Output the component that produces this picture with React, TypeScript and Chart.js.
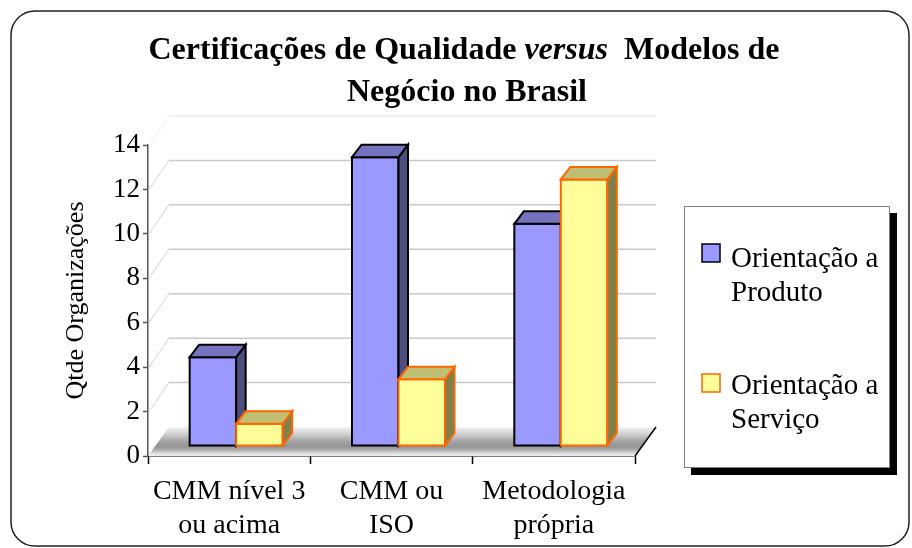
import React, { useEffect, useRef } from 'react';
import { Chart, registerables } from 'chart.js';

Chart.register(...registerables);

// ---------- data ----------
const categories: string[][] = [
  ['CMM nível 3', 'ou acima'],
  ['CMM ou', 'ISO'],
  ['Metodologia', 'própria'],
];
const seriesNames = ['Orientação a Produto', 'Orientação a Serviço'];
const legendLines = [
  ['Orientação a', 'Produto'],
  ['Orientação a', 'Serviço'],
];
const produto = [4, 13, 10];
const servico = [1, 3, 12];
const yTickValues = [0, 2, 4, 6, 8, 10, 12, 14];
const titleLine1 = [
  { text: 'Certificações de Qualidade ', italic: false },
  { text: 'versus', italic: true },
  { text: '  Modelos de', italic: false },
];
const titleLine2 = 'Negócio no Brasil';
const yAxisTitle = 'Qtde Organizações';

// ---------- styles ----------
const FONT = '"Liberation Serif", "Times New Roman", serif';
const faces = [
  { front: '#9999FF', top: '#7373BF', side: '#4D4D80', border: '#000000' },
  { front: '#FFFF99', top: '#BFBF73', side: '#80804D', border: '#FF6600' },
];
const DEPTH_X = 9.5;
const DEPTH_Y = 12.5;
const BAR_SHIFT_X = 7;
const BAR_SHIFT_Y = -10;
const WALL_DX = 21;
const WALL_DY = -29;

function roundRect(ctx: CanvasRenderingContext2D, x: number, y: number, w: number, h: number, r: number) {
  ctx.beginPath();
  ctx.moveTo(x + r, y);
  ctx.lineTo(x + w - r, y);
  ctx.arcTo(x + w, y, x + w, y + r, r);
  ctx.lineTo(x + w, y + h - r);
  ctx.arcTo(x + w, y + h, x + w - r, y + h, r);
  ctx.lineTo(x + r, y + h);
  ctx.arcTo(x, y + h, x, y + h - r, r);
  ctx.lineTo(x, y + r);
  ctx.arcTo(x, y, x + r, y, r);
  ctx.closePath();
}

function poly(ctx: CanvasRenderingContext2D, pts: number[][], fill: string, stroke: string, lw: number) {
  ctx.beginPath();
  ctx.moveTo(pts[0][0], pts[0][1]);
  for (let i = 1; i < pts.length; i++) ctx.lineTo(pts[i][0], pts[i][1]);
  ctx.closePath();
  ctx.fillStyle = fill;
  ctx.fill();
  ctx.lineWidth = lw;
  ctx.strokeStyle = stroke;
  ctx.lineJoin = 'miter';
  ctx.stroke();
}

const excel3d = {
  id: 'excel3d',
  beforeDraw(chart: any) {
    const ctx: CanvasRenderingContext2D = chart.ctx;
    ctx.save();
    ctx.fillStyle = '#ffffff';
    ctx.fillRect(0, 0, chart.width, chart.height);
    // outer rounded frame
    roundRect(ctx, 11, 11, 898, 535, 24);
    ctx.lineWidth = 1.5;
    ctx.strokeStyle = '#222222';
    ctx.stroke();
    // title
    const cx = 464;
    ctx.fillStyle = '#000000';
    ctx.textBaseline = 'alphabetic';
    ctx.textAlign = 'left';
    const fontOf = (it: boolean) => `${it ? 'italic ' : ''}bold 32px ${FONT}`;
    let total = 0;
    for (const p of titleLine1) {
      ctx.font = fontOf(p.italic);
      total += ctx.measureText(p.text).width;
    }
    let x = cx - total / 2;
    for (const p of titleLine1) {
      ctx.font = fontOf(p.italic);
      ctx.fillText(p.text, x, 59);
      x += ctx.measureText(p.text).width;
    }
    ctx.font = fontOf(false);
    ctx.textAlign = 'center';
    ctx.fillText(titleLine2, 467, 101);
    ctx.restore();
  },
  beforeDatasetsDraw(chart: any) {
    const ctx: CanvasRenderingContext2D = chart.ctx;
    const ca = chart.chartArea;
    const y = chart.scales.y;
    ctx.save();
    // back wall gridlines + side diagonals
    for (const v of yTickValues) {
      const py = y.getPixelForValue(v);
      if (v === 0) continue;
      const topLine = v === yTickValues[yTickValues.length - 1];
      ctx.lineWidth = 1.5;
      ctx.strokeStyle = topLine ? '#efefef' : '#c9c9c9';
      ctx.beginPath();
      ctx.moveTo(ca.left + WALL_DX, py + WALL_DY);
      ctx.lineTo(ca.right + WALL_DX, py + WALL_DY);
      ctx.stroke();
      ctx.strokeStyle = topLine ? '#efefef' : '#d4d4d4';
      ctx.lineWidth = 1;
      ctx.beginPath();
      ctx.moveTo(ca.left + 1, py);
      ctx.lineTo(ca.left + WALL_DX, py + WALL_DY);
      ctx.stroke();
    }
    // floor
    const y0 = y.getPixelForValue(0);
    const g = ctx.createLinearGradient(0, y0 + WALL_DY, 0, y0);
    g.addColorStop(0, '#f4f4f4');
    g.addColorStop(0.12, '#e2e2e2');
    g.addColorStop(0.3, '#c6c6c6');
    g.addColorStop(0.5, '#a2a2a2');
    g.addColorStop(0.68, '#949494');
    g.addColorStop(0.8, '#b0b0b0');
    g.addColorStop(0.9, '#dadada');
    g.addColorStop(1, '#f2f2f2');
    ctx.beginPath();
    ctx.moveTo(ca.left, y0);
    ctx.lineTo(ca.right, y0);
    ctx.lineTo(ca.right + WALL_DX, y0 + WALL_DY);
    ctx.lineTo(ca.left + WALL_DX, y0 + WALL_DY);
    ctx.closePath();
    ctx.fillStyle = g;
    ctx.fill();
    ctx.strokeStyle = '#000000';
    ctx.lineWidth = 1.5;
    ctx.beginPath();
    ctx.moveTo(ca.right, y0);
    ctx.lineTo(ca.right + WALL_DX, y0 + WALL_DY);
    ctx.stroke();
    ctx.restore();
    // bars are drawn at the middle depth
    ctx.save();
    ctx.translate(BAR_SHIFT_X, BAR_SHIFT_Y);
  },
  afterDatasetsDraw(chart: any) {
    const ctx: CanvasRenderingContext2D = chart.ctx;
    const metas = chart.data.datasets.map((_: any, i: number) => chart.getDatasetMeta(i));
    const n = chart.data.labels.length;
    for (let j = 0; j < n; j++) {
      metas.forEach((meta: any, i: number) => {
        const el = meta.data[j];
        if (!el) return;
        const { x, y, base, width } = el.getProps(['x', 'y', 'base', 'width'], true);
        const l = x - width / 2;
        const r = x + width / 2;
        const f = faces[i];
        poly(ctx, [[l, y], [r, y], [r, base], [l, base]], f.front, f.border, 2);
        poly(ctx, [[r, y], [r + DEPTH_X, y - DEPTH_Y], [r + DEPTH_X, base - DEPTH_Y], [r, base]], f.side, f.border, 2);
        poly(ctx, [[l, y], [l + DEPTH_X, y - DEPTH_Y], [r + DEPTH_X, y - DEPTH_Y], [r, y]], f.top, f.border, 2);
      });
    }
    ctx.restore();
  },
  afterDraw(chart: any) {
    const ctx: CanvasRenderingContext2D = chart.ctx;
    ctx.save();
    // legend box with shadow
    const bx = 684, by = 206, bw = 206, bh = 262;
    ctx.fillStyle = '#000000';
    ctx.fillRect(bx + 7, by + 7, bw, bh);
    ctx.fillStyle = '#ffffff';
    ctx.fillRect(bx, by, bw, bh);
    ctx.strokeStyle = '#808080';
    ctx.lineWidth = 1;
    ctx.strokeRect(bx + 0.5, by + 0.5, bw - 1, bh - 1);
    const itemTops = [244, 374];
    const baselines = [[267, 301], [394, 428]];
    chart.data.datasets.forEach((ds: any, i: number) => {
      ctx.fillStyle = faces[i].front;
      ctx.fillRect(702, itemTops[i], 18, 18);
      ctx.strokeStyle = faces[i].border;
      ctx.lineWidth = 1.5;
      ctx.strokeRect(702, itemTops[i], 18, 18);
      ctx.fillStyle = '#000000';
      ctx.font = `29px ${FONT}`;
      ctx.textAlign = 'left';
      ctx.textBaseline = 'alphabetic';
      legendLines[i].forEach((t, k) => ctx.fillText(t, 731, baselines[i][k]));
    });
    ctx.restore();
  },
};

export default function App() {
  const ref = useRef<HTMLCanvasElement | null>(null);
  useEffect(() => {
    if (!ref.current) return;
    const chart = new Chart(ref.current, {
      type: 'bar',
      data: {
        labels: categories as any,
        datasets: [
          {
            label: seriesNames[0],
            data: produto,
            backgroundColor: faces[0].front,
            borderColor: faces[0].border,
            borderWidth: 2,
            clip: false as any,
          },
          {
            label: seriesNames[1],
            data: servico,
            backgroundColor: faces[1].front,
            borderColor: faces[1].border,
            borderWidth: 2,
            clip: false as any,
          },
        ],
      },
      options: {
        animation: false,
        responsive: false,
        devicePixelRatio: 1,
        layout: { padding: { left: 0, top: 145, right: 277, bottom: 0 } },
        datasets: { bar: { categoryPercentage: 0.573, barPercentage: 1 } },
        plugins: {
          legend: { display: false },
          title: { display: false },
          tooltip: { enabled: false },
        },
        scales: {
          x: {
            z: 1,
            offset: true,
            grid: {
              offset: true,
              drawOnChartArea: false,
              drawTicks: true,
              tickLength: 8,
              tickColor: '#000000',
              tickWidth: 1.5,
            },
            border: { display: true, color: '#000000', width: 1.5 },
            ticks: {
              color: '#000000',
              font: { family: FONT, size: 28 },
              padding: 11,
              maxRotation: 0,
              autoSkip: false,
            },
            afterFit: (s: any) => {
              s.height = 92;
            },
          },
          y: {
            z: 1,
            min: 0,
            max: 14,
            grid: {
              drawOnChartArea: false,
              drawTicks: true,
              tickLength: 5,
              tickColor: '#555555',
              tickWidth: 1.5,
            },
            border: { display: true, color: '#555555', width: 1.5 },
            ticks: {
              stepSize: 2,
              color: '#000000',
              font: { family: FONT, size: 27 },
              padding: 3,
            },
            title: {
              display: true,
              text: yAxisTitle,
              color: '#000000',
              font: { family: FONT, size: 26 },
              padding: { top: 61, bottom: 0 },
            },
            afterFit: (s: any) => {
              s.width = 148;
            },
          },
        },
      },
      plugins: [excel3d],
    } as any);
    return () => chart.destroy();
  }, []);
  return (
    <div style={{ position: 'absolute', left: 0, top: 0, width: 912, height: 548 }}>
      <canvas ref={ref} width={912} height={548} style={{ display: 'block' }} />
    </div>
  );
}
